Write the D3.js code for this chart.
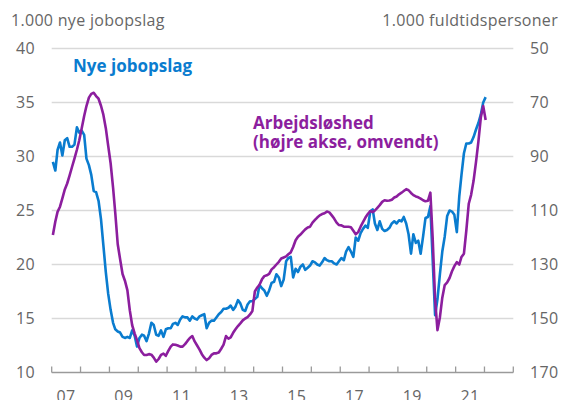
<!DOCTYPE html>
<html>
<head>
<meta charset="utf-8">
<script src="https://cdn.jsdelivr.net/npm/d3@7"></script>
<style>
body { margin: 0; background: #fff; }
svg { display: block; font-family: "Open Sans", sans-serif; }
</style>
</head>
<body>
<svg width="562" height="400"></svg>
<script>

// DATA (monthly, jan 2007 - jan 2022)

// 1.000 nye jobopslag (venstre akse)
var jobopslag = [
	29.5, 28.7, 30.6, 31.3, 30.1, 31.5, 31.7, 30.9, 30.9, 31.1, 32.7, 32.2, // 2007
	32.4, 32.0, 29.8, 29.2, 28.3, 26.8, 26.7, 25.9, 24.2, 21.8, 19.3, 17.3, // 2008
	15.8, 14.6, 14.0, 13.8, 13.7, 13.3, 13.2, 13.3, 13.2, 13.9, 13.4, 12.4, // 2009
	13.2, 13.5, 13.4, 12.9, 13.6, 14.6, 14.4, 13.5, 13.4, 13.9, 13.3, 14.0, // 2010
	14.1, 14.1, 14.5, 14.6, 14.4, 14.9, 15.2, 15.1, 15.1, 14.8, 15.2, 15.0, // 2011
	14.9, 15.2, 15.3, 15.4, 14.1, 14.6, 14.8, 14.8, 15.1, 15.4, 15.6, 15.9, // 2012
	15.9, 16.0, 16.2, 15.8, 16.1, 16.7, 16.4, 15.8, 15.7, 16.3, 16.6, 16.6, // 2013
	16.8, 17.0, 18.1, 17.8, 17.6, 17.1, 17.6, 18.3, 18.4, 19.1, 18.8, 18.0, // 2014
	18.6, 20.3, 20.6, 20.7, 18.8, 19.6, 19.3, 19.8, 20.0, 19.5, 19.7, 19.9, // 2015
	20.3, 20.2, 20.0, 19.9, 20.2, 20.6, 20.4, 20.3, 20.3, 20.1, 20.0, 20.3, // 2016
	20.6, 20.4, 21.2, 21.6, 21.2, 20.7, 22.5, 22.2, 22.9, 23.3, 23.6, 23.4, // 2017
	24.9, 25.1, 23.8, 23.2, 24.0, 23.3, 23.1, 23.2, 23.4, 23.8, 24.0, 23.8, // 2018
	24.1, 24.0, 24.4, 23.8, 22.8, 21.0, 22.8, 22.0, 22.2, 21.0, 22.6, 24.3, // 2019
	24.4, 25.4, 20.5, 15.3, 16.8, 19.1, 21.2, 22.6, 24.5, 25.0, 24.9, 24.6, // 2020
	23.0, 26.3, 28.3, 30.3, 31.2, 31.2, 31.3, 31.8, 32.5, 33.1, 33.9, 35.0, // 2021
	35.5                                                                    // 2022
]

// 1.000 fuldtidsledige (hoejre akse, omvendt)
var ledighed = [
	119.1, 114.1, 110.5, 108.6, 105.5, 102.2, 100.0, 97.0, 93.8, 90.8, 87.5, 84.0,
	79.5, 75.0, 71.3, 68.2, 66.8, 66.4, 67.6, 68.6, 71.2, 74.5, 79.5, 86.0,
	92.5, 101.5, 111.0, 122.5, 128.0, 133.5, 136.0, 139.5, 147.0, 152.5, 155.5, 158.0,
	161.0, 162.5, 163.5, 163.5, 163.2, 163.4, 164.5, 166.0, 165.0, 163.5, 163.0, 163.8,
	162.0, 160.4, 159.6, 159.7, 160.0, 160.4, 160.4, 159.5, 158.3, 157.2, 156.5, 158.5,
	160.0, 161.5, 163.2, 164.5, 165.4, 164.7, 163.5, 162.9, 162.9, 162.6, 161.2, 159.7,
	156.5, 157.5, 157.0, 155.3, 154.0, 152.8, 151.8, 150.7, 150.0, 149.5, 148.5, 147.2,
	140.0, 138.5, 137.5, 135.5, 134.3, 134.0, 133.5, 131.8, 131.0, 130.0, 129.0, 127.8,
	127.4, 127.0, 126.2, 125.5, 123.5, 121.0, 119.7, 118.9, 117.9, 117.0, 116.3, 116.0,
	114.5, 113.5, 112.6, 111.8, 111.3, 111.0, 110.4, 110.7, 111.8, 113.0, 114.5, 115.4,
	115.5, 116.0, 116.0, 116.0, 116.2, 117.5, 118.8, 118.0, 116.0, 114.3, 112.6, 111.3,
	110.2, 110.6, 110.0, 109.0, 108.0, 106.8, 106.2, 106.4, 106.3, 106.0, 105.2, 104.8,
	104.0, 103.4, 102.8, 102.1, 102.5, 103.5, 104.3, 104.8, 105.1, 105.6, 106.2, 106.6,
	106.4, 103.4, 120.0, 143.0, 154.3, 149.5, 142.3, 137.6, 136.6, 135.0, 132.5, 130.6,
	129.1, 130.0, 127.2, 126.0, 117.5, 107.5, 104.2, 99.0, 92.0, 84.5, 75.5, 71.3,
	76.5
]

var leftTicks = [10, 15, 20, 25, 30, 35, 40]
var rightTicks = [50, 70, 90, 110, 130, 150, 170]
var yearLabels = ['07', '09', '11', '13', '15', '17', '19', '21']

// VIS

var blue = '#0a7ccf'
var purple = '#8c1e9e'
var grey = '#666'

var svg = d3.select('svg')

var x = d3.scaleTime()
	.domain([new Date(2007, 0, 1), new Date(2023, 0, 1)])
	.range([51.7, 513.3])

var yLeft = d3.scaleLinear().domain([10, 40]).range([372.5, 48.5])
var yRight = d3.scaleLinear().domain([170, 50]).range([372.5, 48.5])

function monthDate(i){
	return new Date(2007, i, 16)
}

// grid
svg.append('g')
	.selectAll('line')
	.data(leftTicks)
	.enter().append('line')
	.attr('x1', x.range()[0])
	.attr('x2', x.range()[1])
	.attr('y1', function(d){ return yLeft(d) })
	.attr('y2', function(d){ return yLeft(d) })
	.attr('stroke', function(d){ return d == 10 ? '#9a9a9a' : '#d9d9d9' })
	.attr('stroke-width', function(d){ return d == 10 ? 1.6 : 1.3 })

// year ticks
svg.append('g')
	.selectAll('line')
	.data(d3.timeYear.range(new Date(2007, 0, 1), new Date(2023, 0, 2)))
	.enter().append('line')
	.attr('x1', function(d){ return x(d) })
	.attr('x2', function(d){ return x(d) })
	.attr('y1', yLeft(10))
	.attr('y2', yLeft(10) - 6)
	.attr('stroke', '#9a9a9a')
	.attr('stroke-width', 1.3)

// labels
var labelStyle = function(sel){
	sel.attr('fill', grey)
		.style('font-size', '16px')
		.style('letter-spacing', '0.3px')
}

svg.append('g')
	.selectAll('text')
	.data(yearLabels)
	.enter().append('text')
	.attr('x', function(d){ return x(new Date(2000 + +d, 6, 1)) })
	.attr('y', 402)
	.attr('text-anchor', 'middle')
	.call(labelStyle)
	.text(function(d){ return d })

svg.append('g')
	.selectAll('text')
	.data(leftTicks)
	.enter().append('text')
	.attr('x', 35)
	.attr('y', function(d){ return yLeft(d) })
	.attr('dy', '0.36em')
	.attr('text-anchor', 'end')
	.call(labelStyle)
	.text(function(d){ return d })

svg.append('g')
	.selectAll('text')
	.data(rightTicks)
	.enter().append('text')
	.attr('x', 530)
	.attr('y', function(d){ return yRight(d) })
	.attr('dy', '0.36em')
	.call(labelStyle)
	.text(function(d){ return d })

svg.append('text')
	.attr('x', 11)
	.attr('y', 26)
	.call(labelStyle)
	.text('1.000 nye jobopslag')

svg.append('text')
	.attr('x', 558)
	.attr('y', 26)
	.attr('text-anchor', 'end')
	.call(labelStyle)
	.text('1.000 fuldtidspersoner')

// lines
var lineLeft = d3.line()
	.x(function(d, i){ return x(monthDate(i)) })
	.y(function(d){ return yLeft(d) })

var lineRight = d3.line()
	.x(function(d, i){ return x(monthDate(i)) })
	.y(function(d){ return yRight(d) })

svg.append('path')
	.datum(jobopslag)
	.attr('d', lineLeft)
	.attr('fill', 'none')
	.attr('stroke', blue)
	.attr('stroke-width', 2.6)
	.attr('stroke-linejoin', 'round')

svg.append('path')
	.datum(ledighed)
	.attr('d', lineRight)
	.attr('fill', 'none')
	.attr('stroke', purple)
	.attr('stroke-width', 2.6)
	.attr('stroke-linejoin', 'round')

// series labels
svg.append('text')
	.attr('x', 73)
	.attr('y', 72)
	.attr('fill', blue)
	.style('font-size', '17px')
	.style('font-weight', 'bold')
	.text('Nye jobopslag')

var lab = svg.append('text')
	.attr('fill', purple)
	.style('font-size', '17px')
	.style('font-weight', 'bold')

lab.append('tspan').attr('x', 253).attr('y', 129).text('Arbejdsløshed')
lab.append('tspan').attr('x', 253).attr('y', 148).text('(højre akse, omvendt)')

</script>
</body>
</html>
